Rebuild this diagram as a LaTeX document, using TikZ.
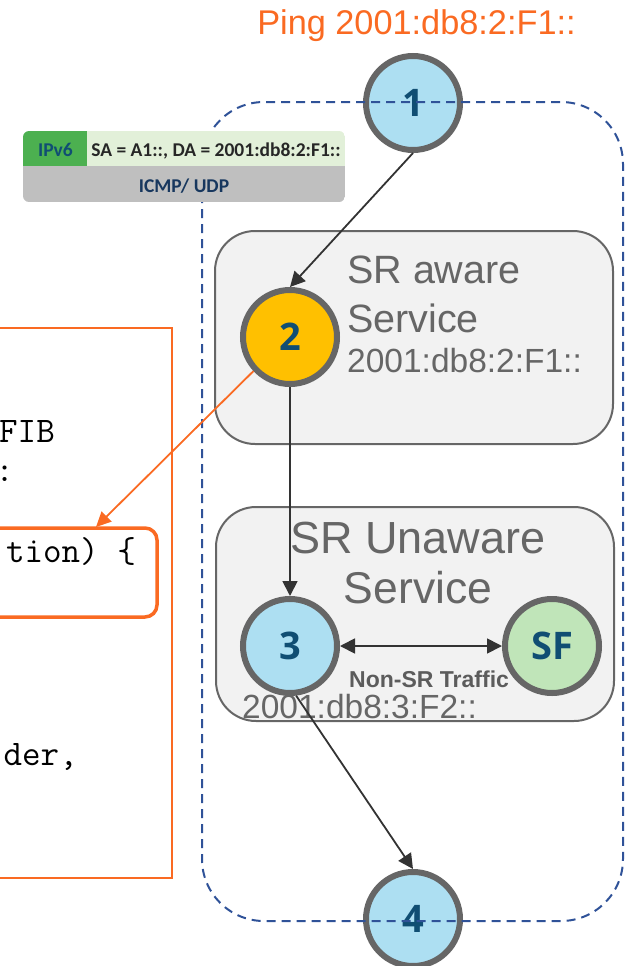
\documentclass[tikz,border=0pt]{standalone}
\usepackage{fontspec}
\setmainfont{Liberation Sans}
\newfontfamily\hopFont{Open Sans}
\newfontfamily\headerFont{Carlito}
\usetikzlibrary{arrows.meta, positioning}
\usepackage{xcolor}
\definecolor{pingOrange}{RGB}{250,106,34}
\definecolor{hopBlue}{RGB}{173,223,242}
\definecolor{hopGold}{RGB}{255,192,0}
\definecolor{hopGreen}{RGB}{192,229,185}
\definecolor{hopText}{RGB}{16,78,115}
\definecolor{edgeGray}{RGB}{102,102,102}
\definecolor{boxFill}{RGB}{242,242,242}
\definecolor{domainBlue}{RGB}{47,82,152}
\definecolor{ipGreen}{RGB}{76,176,80}
\definecolor{ipLight}{RGB}{226,240,217}
\definecolor{ipGray}{RGB}{191,191,191}
\definecolor{ipDark}{RGB}{38,38,38}
\definecolor{ipNavy}{RGB}{23,55,94}
\definecolor{flowGray}{RGB}{51,51,51}
\colorlet{serviceText}{edgeGray}
\tikzset{
    hop/.style={circle, draw=edgeGray, line width=6pt, minimum size=94pt, inner sep=0pt,
        text=hopText, font=\hopFont\bfseries\fontsize{38}{38}\selectfont},
    service/.style={fill=boxFill, draw=edgeGray, line width=2pt, rounded corners=40pt},
    service text/.style={inner sep=0pt, text=serviceText},
    sr domain/.style={draw=domainBlue, line width=2pt, dash pattern=on 9pt off 6pt, rounded corners=62pt},
    flow/.style={draw=flowGray, line width=1.8pt},
    header/.style={inner sep=0pt, anchor=base, font=\headerFont\bfseries\fontsize{19.5}{19.5}\selectfont},
    code line/.style={inner sep=0pt, anchor=base east, font=\ttfamily\fontsize{36}{36}\selectfont},
    code box/.style={draw=pingOrange, line width=2pt},
    callout/.style={draw=pingOrange, line width=1.8pt, -{Triangle[length=15pt,width=14pt]}},
    >={Triangle[length=15pt,width=15pt]}
}
\def\awarebox{(215,231) rectangle (613,444)}
\def\unawarebox{(216,507) rectangle (614,721)}
\def\domainbox{(202,102) rectangle (623,921)}

\begin{document}
\begin{tikzpicture}[x=1pt, y=-1pt]
    \useasboundingbox (0,0) rectangle (630,966);
    \clip (0,0) rectangle (630,966);

    % service boxes
    \draw[service] \awarebox;
    \draw[service] \unawarebox;
    \node[service text, anchor=base west, font=\fontsize{39.5}{39.5}\selectfont] (awareTitle) at (347,283) {SR aware};
    \node[service text, anchor=base west, font=\fontsize{39.5}{39.5}\selectfont] (awareService) at (347,332) {Service};
    \node[service text, anchor=base west, font=\fontsize{33.5}{33.5}\selectfont] (awareAddr) at (347,372) {2001:db8:2:F1::};
    \node[service text, anchor=base, font=\fontsize{45}{45}\selectfont] (unawareTitle) at (418,553) {SR Unaware};
    \node[service text, anchor=base, font=\fontsize{44.5}{44.5}\selectfont] (unawareService) at (418,603) {Service};
    \node[service text, anchor=base west, font=\fontsize{33.5}{33.5}\selectfont] (unawareAddr) at (242,718) {2001:db8:3:F2::};
    \node[inner sep=0pt, anchor=base west, text=serviceText!90!black, font=\bfseries\fontsize{23}{23}\selectfont] (nonSR) at (349,687) {Non-SR Traffic};

    % hops
    \node[inner sep=0pt, anchor=base, text=pingOrange, font=\fontsize{34.3}{34.3}\selectfont] (ping) at (416.5,35) {Ping 2001:db8:2:F1::};
    \node[hop, fill=hopBlue] (hop1) at (413,103) {1};
    \node[hop, fill=hopGold] (hop2) at (290,337) {2};
    \node[hop, fill=hopBlue] (hop3) at (290,646) {3};
    \node[hop, fill=hopGreen, right=162pt of hop3] (sf) {SF};
    \node[hop, fill=hopBlue] (hop4) at (413,919) {4};

    \draw[flow, ->] (hop1.south) -- (hop2.north);
    \draw[flow, ->] (hop2.south) -- (hop3.north);
    \draw[flow, ->] (hop3.-83) -- (hop4.north);
    \draw[flow, <->] (hop3) -- (sf);

    % SR domain
    \draw[sr domain] \domainbox;

    % packet header
    \begin{scope}
        \clip[rounded corners=6pt] (23,131) rectangle (345,202);
        \fill[ipGray] (23,166) rectangle (345,202);
        \fill[ipLight] (87,131) rectangle (345,166);
        \fill[ipGreen] (23,131) rectangle (87,166);
    \end{scope}
    \node[header, text=hopText] (ipv6) at (55.5,156) {IPv6};
    \node[header, text=ipDark] (addrs) at (216,156) {SA = A1::, DA = 2001:db8:2:F1::};
    \node[header, text=ipNavy] (proto) at (184,192) {ICMP/ UDP};

    % pseudo code
    \draw[code box] (-10,328) rectangle (172,878);
    \draw[code box, line width=3.5pt, rounded corners=12pt] (-20,528) rectangle (157,617);
    \node[code line] (fibLine) at (55,442) {FIB};
    \node[code line] (colonLine) at (14,481) {:};
    \node[code line] (ifLine) at (136,562) {tion) \{};
    \node[code line] (headerLine) at (78,765) {der,};
    \coordinate (hit) at (96,527);
    \draw[callout] (hop2.223) -- (hit);
\end{tikzpicture}
\end{document}
